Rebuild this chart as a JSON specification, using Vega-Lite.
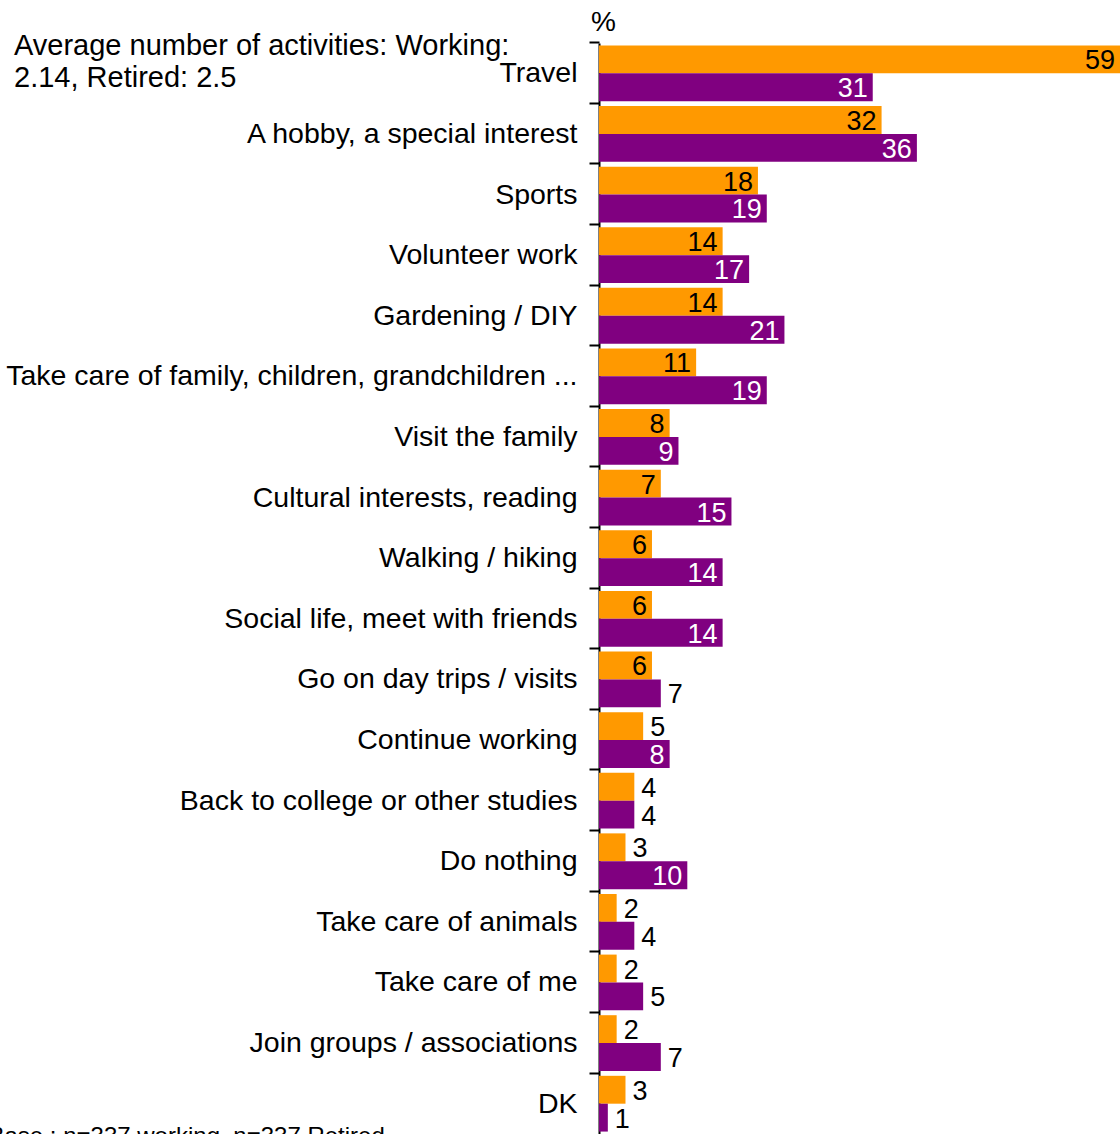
{
  "$schema": "https://vega.github.io/schema/vega-lite/v6.json",
  "width": 521,
  "height": 1091,
  "autosize": {"type": "none"},
  "padding": {"left": 599, "top": 43, "right": 0, "bottom": 0},
  "background": "white",
  "title": {
    "text": ["Average number of activities: Working:", "2.14, Retired: 2.5"],
    "anchor": "start",
    "frame": "group",
    "orient": "top",
    "dx": -585,
    "dy": 108,
    "offset": 0,
    "baseline": "alphabetic",
    "lineHeight": 32,
    "font": "Liberation Sans",
    "fontSize": 29,
    "fontWeight": "normal",
    "color": "#000000"
  },
  "data": {
    "values": [
      {"activity": "Travel", "group": "Working", "value": 59},
      {"activity": "Travel", "group": "Retired", "value": 31},
      {"activity": "A hobby, a special interest", "group": "Working", "value": 32},
      {"activity": "A hobby, a special interest", "group": "Retired", "value": 36},
      {"activity": "Sports", "group": "Working", "value": 18},
      {"activity": "Sports", "group": "Retired", "value": 19},
      {"activity": "Volunteer work", "group": "Working", "value": 14},
      {"activity": "Volunteer work", "group": "Retired", "value": 17},
      {"activity": "Gardening / DIY", "group": "Working", "value": 14},
      {"activity": "Gardening / DIY", "group": "Retired", "value": 21},
      {"activity": "Take care of family, children, grandchildren ...", "group": "Working", "value": 11},
      {"activity": "Take care of family, children, grandchildren ...", "group": "Retired", "value": 19},
      {"activity": "Visit the family", "group": "Working", "value": 8},
      {"activity": "Visit the family", "group": "Retired", "value": 9},
      {"activity": "Cultural interests, reading", "group": "Working", "value": 7},
      {"activity": "Cultural interests, reading", "group": "Retired", "value": 15},
      {"activity": "Walking / hiking", "group": "Working", "value": 6},
      {"activity": "Walking / hiking", "group": "Retired", "value": 14},
      {"activity": "Social life, meet with friends", "group": "Working", "value": 6},
      {"activity": "Social life, meet with friends", "group": "Retired", "value": 14},
      {"activity": "Go on day trips / visits", "group": "Working", "value": 6},
      {"activity": "Go on day trips / visits", "group": "Retired", "value": 7},
      {"activity": "Continue working", "group": "Working", "value": 5},
      {"activity": "Continue working", "group": "Retired", "value": 8},
      {"activity": "Back to college or other studies", "group": "Working", "value": 4},
      {"activity": "Back to college or other studies", "group": "Retired", "value": 4},
      {"activity": "Do nothing", "group": "Working", "value": 3},
      {"activity": "Do nothing", "group": "Retired", "value": 10},
      {"activity": "Take care of animals", "group": "Working", "value": 2},
      {"activity": "Take care of animals", "group": "Retired", "value": 4},
      {"activity": "Take care of me", "group": "Working", "value": 2},
      {"activity": "Take care of me", "group": "Retired", "value": 5},
      {"activity": "Join groups / associations", "group": "Working", "value": 2},
      {"activity": "Join groups / associations", "group": "Retired", "value": 7},
      {"activity": "DK", "group": "Working", "value": 3},
      {"activity": "DK", "group": "Retired", "value": 1}
    ]
  },
  "encoding": {
    "y": {
      "field": "activity",
      "type": "nominal",
      "sort": null,
      "scale": {"paddingInner": 0.08, "paddingOuter": 0.04},
      "axis": {
        "title": "%",
        "titleAngle": 0,
        "titleX": 4,
        "titleY": -13,
        "titleAlign": "center",
        "titleBaseline": "alphabetic",
        "titleFont": "Liberation Sans",
        "titleFontSize": 28,
        "titleFontWeight": "normal",
        "titleColor": "#000000",
        "domain": true,
        "domainColor": "#000000",
        "domainWidth": 2,
        "ticks": true,
        "tickColor": "#000000",
        "tickWidth": 2,
        "tickSize": 10,
        "bandPosition": -0.05,
        "labelFont": "Liberation Sans",
        "labelFontSize": 28.5,
        "labelColor": "#000000",
        "labelPadding": 12,
        "labelLimit": 800,
        "grid": false
      }
    },
    "yOffset": {
      "field": "group",
      "type": "nominal",
      "sort": ["Working", "Retired"],
      "scale": {"paddingInner": 0, "paddingOuter": 0}
    },
    "x": {
      "field": "value",
      "type": "quantitative",
      "scale": {"domain": [0, 59], "nice": false, "zero": true},
      "axis": {
        "orient": "bottom",
        "title": "Base : n=337 working, n=337 Retired",
        "titleX": -611,
        "titleY": 9,
        "titleAlign": "left",
        "titleBaseline": "alphabetic",
        "titleFont": "Liberation Sans",
        "titleFontSize": 24,
        "titleFontWeight": "normal",
        "titleColor": "#000000",
        "domain": false,
        "ticks": false,
        "labels": false,
        "grid": false
      }
    }
  },
  "layer": [
    {
      "mark": {"type": "bar"},
      "encoding": {
        "color": {
          "field": "group",
          "type": "nominal",
          "scale": {"domain": ["Working", "Retired"], "range": ["#FF9900", "#800080"]},
          "legend": null
        }
      }
    },
    {
      "transform": [
        {"filter": "(datum.group == 'Working' && datum.value >= 6) || (datum.group == 'Retired' && datum.value >= 8)"}
      ],
      "mark": {
        "type": "text",
        "align": "right",
        "baseline": "middle",
        "dx": -5,
        "dy": 2,
        "font": "Liberation Sans",
        "fontSize": 27
      },
      "encoding": {
        "text": {"field": "value", "type": "quantitative"},
        "color": {
          "condition": {"test": "datum.group == 'Retired'", "value": "#FFFFFF"},
          "value": "#000000"
        }
      }
    },
    {
      "transform": [
        {"filter": "(datum.group == 'Working' && datum.value < 6) || (datum.group == 'Retired' && datum.value < 8)"}
      ],
      "mark": {
        "type": "text",
        "align": "left",
        "baseline": "middle",
        "dx": 7,
        "dy": 2,
        "font": "Liberation Sans",
        "fontSize": 27,
        "color": "#000000"
      },
      "encoding": {
        "text": {"field": "value", "type": "quantitative"}
      }
    }
  ],
  "config": {
    "view": {"stroke": null}
  }
}
